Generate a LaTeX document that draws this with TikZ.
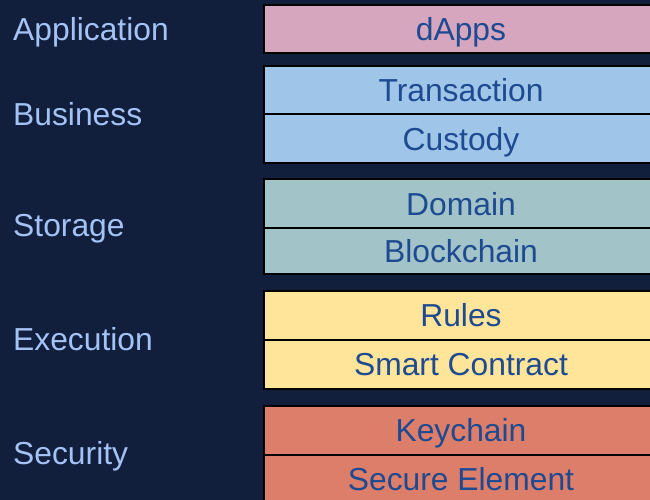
\documentclass[tikz,border=0pt]{standalone}
\usepackage{fontspec}
\setmainfont{Liberation Sans}
\definecolor{stackbg}{RGB}{17,31,61}
\definecolor{tiertext}{RGB}{164,194,244}
\definecolor{layertext}{RGB}{30,74,145}
\definecolor{appfill}{RGB}{213,166,189}
\definecolor{busfill}{RGB}{159,197,232}
\definecolor{storefill}{RGB}{162,196,201}
\definecolor{execfill}{RGB}{255,229,153}
\definecolor{secfill}{RGB}{221,126,107}
\begin{document}
\begin{tikzpicture}[x=1pt,y=-1pt,
  layer/.style={draw=black,line width=2pt,inner sep=0pt,anchor=north west,
    minimum width=395pt,text=layertext,font=\fontsize{31.8}{36}\selectfont,
    text height=23pt,text depth=0pt},
  tier/.style={anchor=west,inner sep=0pt,text=tiertext,
    font=\fontsize{31.8}{36}\selectfont,text height=23pt,text depth=0pt}]
\fill[stackbg] (0,0) rectangle (650,500);
\clip (0,0) rectangle (650,500);
% tier names
\node[tier] (application) at (13,29) {Application};
\node[tier] (business) at (13,113.5) {Business};
\node[tier] (storage) at (13,225) {Storage};
\node[tier] (execution) at (13,338.5) {Execution};
\node[tier] (security) at (13,453) {Security};
% application
\node[layer,fill=appfill,minimum height=48pt] (dapps) at (262.5,4) {dApps};
% business
\node[layer,fill=busfill,minimum height=48pt] (transaction) at (262.5,65) {Transaction};
\node[layer,fill=busfill,minimum height=49pt] (custody) at (262.5,113) {Custody};
% storage
\node[layer,fill=storefill,minimum height=49pt] (domain) at (262.5,178) {Domain};
\node[layer,fill=storefill,minimum height=46pt] (blockchain) at (262.5,227) {Blockchain};
% execution
\node[layer,fill=execfill,minimum height=49pt] (rules) at (262.5,289.5) {Rules};
\node[layer,fill=execfill,minimum height=49pt] (contract) at (262.5,338.5) {Smart Contract};
% security
\node[layer,fill=secfill,minimum height=49pt] (keychain) at (262.5,404.5) {Keychain};
\node[layer,fill=secfill,minimum height=49pt] (secure) at (262.5,453.5) {Secure Element};
\end{tikzpicture}
\end{document}
